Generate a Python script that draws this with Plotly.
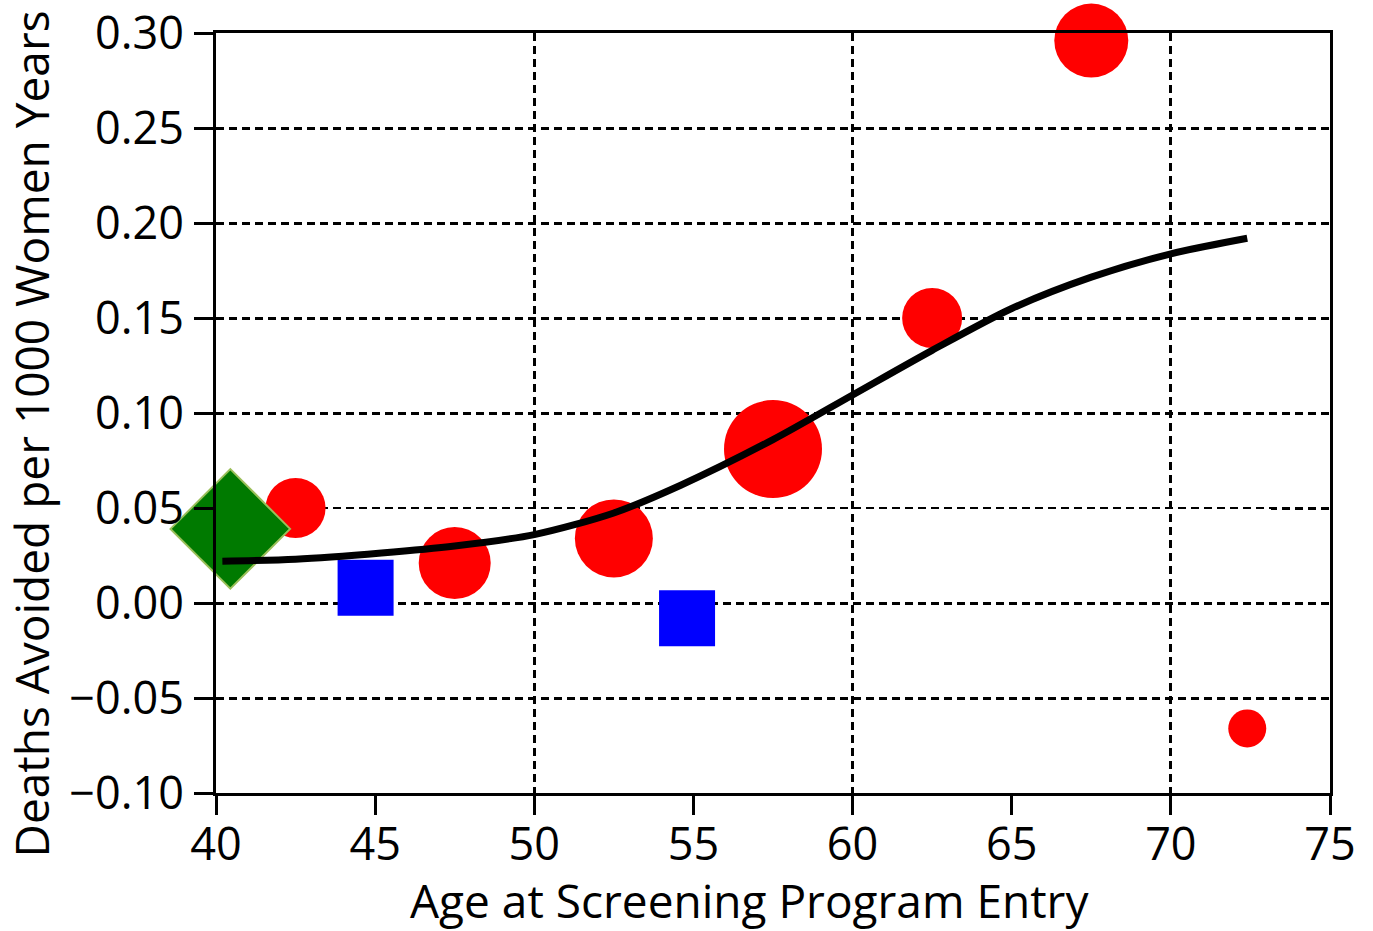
import plotly.graph_objects as go

# ---- data ----
circle_x = [42.5, 47.5, 52.5, 57.5, 62.5, 67.5, 72.4]
circle_y = [0.050, 0.021, 0.034, 0.081, 0.150, 0.296, -0.066]
circle_size = [60, 72, 78, 98, 60, 74, 38]

square_x = [44.7, 54.8]
square_y = [0.008, -0.008]
square_size = [56, 56]

diamond_x = [40.45]
diamond_y = [0.039]
diamond_size = [92]

curve_x = [40.2, 42.5, 45.2, 47.5, 50.0, 52.5, 54.6, 57.5, 60.0, 62.5, 65.0, 67.5, 70.0, 72.4]
curve_y = [0.022, 0.023, 0.0263, 0.030, 0.036, 0.0474, 0.062, 0.086, 0.1095, 0.133, 0.155, 0.1715, 0.1838, 0.192]

x_ticks = [40, 45, 50, 55, 60, 65, 70, 75]
x_grid = [50, 60, 70]
y_ticks = [-0.10, -0.05, 0.00, 0.05, 0.10, 0.15, 0.20, 0.25, 0.30]
y_labels = ["\u22120.10", "\u22120.05", "0.00", "0.05", "0.10", "0.15", "0.20", "0.25", "0.30"]

x_title = "Age at Screening Program Entry"
y_title = "Deaths Avoided per 1000 Women Years"

FONT = "Open Sans"

fig = go.Figure()
fig.add_trace(go.Scatter(x=circle_x, y=circle_y, mode="markers", cliponaxis=False,
                         marker=dict(symbol="circle", size=circle_size, color="#ff0000",
                                     opacity=1, line=dict(width=0)), showlegend=False))
fig.add_trace(go.Scatter(x=square_x, y=square_y, mode="markers", cliponaxis=False,
                         marker=dict(symbol="square", size=square_size, color="#0000ff",
                                     opacity=1, line=dict(width=0)), showlegend=False))
fig.add_trace(go.Scatter(x=diamond_x, y=diamond_y, mode="markers", cliponaxis=False,
                         marker=dict(symbol="diamond", size=diamond_size, color="#007a00",
                                     opacity=1, line=dict(width=2, color="#9bbf5a")),
                         showlegend=False))
fig.add_trace(go.Scatter(x=curve_x, y=curve_y, mode="lines", cliponaxis=False,
                         line=dict(color="black", width=7, shape="spline", smoothing=0.8),
                         showlegend=False))
# invisible trace to activate grid axis
fig.add_trace(go.Scatter(x=[x_ticks[0]], y=[y_ticks[0]], xaxis="x2", mode="markers",
                         marker=dict(opacity=0), hoverinfo="skip", showlegend=False))

fig.update_layout(
    width=1373, height=931, autosize=False,
    margin=dict(l=216, r=43, t=33, b=138, pad=0),
    paper_bgcolor="white", plot_bgcolor="white",
    font=dict(family=FONT, size=45, color="black"),
    xaxis=dict(range=[40, 75], tickvals=x_ticks, ticktext=[str(v) for v in x_ticks],
               showgrid=False, zeroline=False, showline=True, linecolor="black", linewidth=3,
               mirror=True, ticks="outside", ticklen=19, tickwidth=2.5, tickcolor="black",
               tickfont=dict(family=FONT, size=45), ticklabelstandoff=-9, automargin=False),
    xaxis2=dict(range=[40, 75], overlaying="x", tickvals=x_grid, showticklabels=False,
                ticks="", showgrid=True, gridcolor="black", gridwidth=2.5,
                griddash="8px,5px", zeroline=False, showline=False, layer="below traces",
                automargin=False),
    yaxis=dict(range=[-0.10, 0.30], tickvals=y_ticks, ticktext=y_labels,
               showgrid=True, gridcolor="black", gridwidth=2.5, griddash="8px,5px",
               zeroline=False, showline=True, linecolor="black", linewidth=3,
               mirror=True, ticks="outside", ticklen=19, tickwidth=2.5, tickcolor="black",
               tickfont=dict(family=FONT, size=45), ticklabelstandoff=1, automargin=False),
    annotations=[
        dict(text=x_title, xref="paper", yref="paper", x=0.4785, y=-0.1405,
             xanchor="center", yanchor="middle", showarrow=False,
             font=dict(family=FONT, size=46)),
        dict(text=y_title, xref="paper", yref="paper", x=-0.1665, y=0.4724,
             xanchor="center", yanchor="middle", showarrow=False, textangle=-90,
             font=dict(family=FONT, size=46)),
    ],
)

fig.write_html("out.html", config={"displayModeBar": False},
               post_script="document.body.style.margin='0';document.body.style.overflow='hidden';")
